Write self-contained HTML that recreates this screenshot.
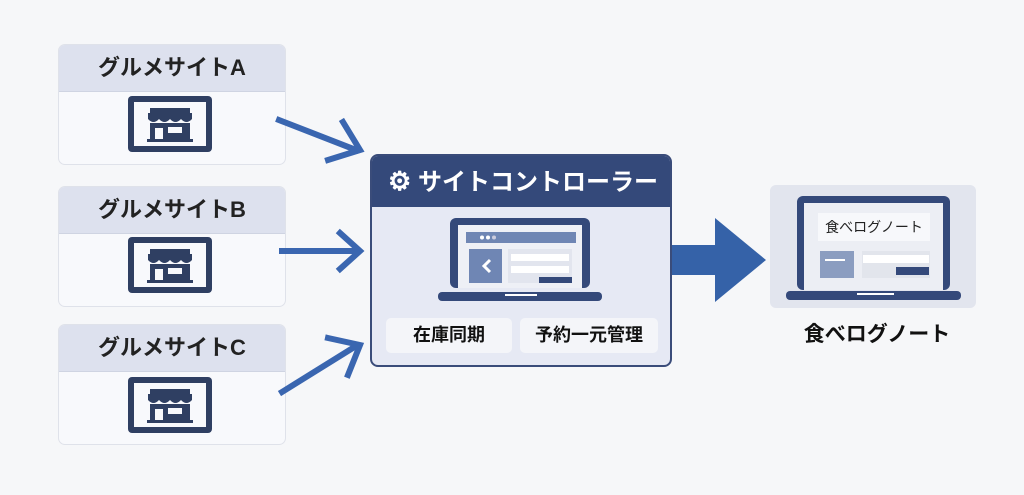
<!DOCTYPE html>
<html><head><meta charset="utf-8"><style>
body{margin:0;width:1024px;height:495px;background:#f6f7f9;position:relative;overflow:hidden;font-family:"Liberation Sans","Noto Sans CJK JP",sans-serif}
.a{position:absolute}
.site{position:absolute;left:58px;width:226px;height:119px;border:1px solid #dfe2ea;border-radius:7px;background:#f8f9fc;overflow:hidden}
.site .h{height:46px;background:#dde1ee;border-bottom:1px solid #cfd4e2;font-weight:bold;font-size:22px;color:#222;text-align:center;line-height:46px}
</style></head><body>
<div class="site" style="top:44px"><div class="h">グルメサイトA</div></div>
<div class="site" style="top:186px"><div class="h">グルメサイトB</div></div>
<div class="site" style="top:324px"><div class="h">グルメサイトC</div></div>

<svg class="a" style="left:0;top:0" width="1024" height="495">
<defs>
<g id="shop">
<rect x="0" y="0" width="84" height="56" rx="4" fill="#2f3f62"/>
<rect x="6" y="6" width="72" height="44" fill="#f8f9fc"/>
<rect x="22" y="12" width="40" height="5" fill="#2f3f62"/>
<path d="M20 17 h44 v6 q-5.5 6 -11 0 q-5.5 6 -11 0 q-5.5 6 -11 0 q-5.5 6 -11 0z" fill="#2f3f62"/>
<rect x="22" y="27" width="40" height="16" fill="#2f3f62"/>
<rect x="27" y="32" width="8" height="11" fill="#f8f9fc"/>
<rect x="40" y="31" width="14" height="6" fill="#f8f9fc"/>
<rect x="19" y="43" width="46" height="3" fill="#2f3f62"/>
</g>
</defs>
<use href="#shop" x="128" y="96"/>
<use href="#shop" x="128" y="237"/>
<use href="#shop" x="128" y="377"/>
<g stroke="#3a66b0" stroke-width="6" fill="none" stroke-linecap="square">
<line x1="279" y1="120" x2="356" y2="150"/><polyline points="343,122 360,150 328,160"/>
<line x1="282" y1="251" x2="356" y2="251"/><polyline points="340,233 360,251 340,269"/>
<line x1="282" y1="392" x2="356" y2="346"/><polyline points="328,338 360,345 348,375"/>
</g>
<polygon points="662,245 715,245 715,218 766,260 715,302 715,275 662,275" fill="#3562a8"/>
</svg>

<div class="a" style="left:370px;top:154px;width:298px;height:209px;border:2px solid #3a4c7a;border-radius:8px;background:#e6e9f4;overflow:hidden">
<div style="height:51px;background:#34497a;color:#fff;font-weight:bold;font-size:24px;line-height:51px;padding-left:16px"><span style="font-size:26px">⚙</span> サイトコントローラー</div>
</div>
<svg class="a" style="left:0;top:0" width="1024" height="495">
<rect x="450" y="218" width="140" height="70" rx="6" fill="#34497a"/>
<rect x="458" y="225" width="124" height="63" fill="#eef0f6"/>
<rect x="466" y="232" width="110" height="11" fill="#6f86b4"/>
<circle cx="482" cy="237.5" r="2" fill="#fff"/><circle cx="488" cy="237.5" r="2" fill="#fff"/><circle cx="494" cy="237.5" r="2" fill="#ccd"/>
<rect x="469" y="249" width="33" height="34" fill="#6f86b4"/>
<polyline points="490,260 484,266 490,272" stroke="#fff" stroke-width="3" fill="none"/>
<rect x="508" y="249" width="64" height="34" fill="#e2e5ee"/>
<rect x="511" y="254" width="58" height="7" fill="#fff"/><rect x="511" y="266" width="58" height="7" fill="#fff"/>
<rect x="539" y="277" width="33" height="6" fill="#34497a"/>
<rect x="438" y="292" width="164" height="9" rx="4" fill="#34497a"/>
<rect x="505" y="294" width="32" height="2" fill="#fff"/>
</svg>
<div class="a" style="left:386px;top:318px;width:126px;height:35px;background:#f4f5f9;border-radius:5px;font-weight:bold;font-size:18px;line-height:35px;text-align:center;color:#111">在庫同期</div>
<div class="a" style="left:520px;top:318px;width:138px;height:35px;background:#f4f5f9;border-radius:5px;font-weight:bold;font-size:18px;line-height:35px;text-align:center;color:#111">予約一元管理</div>

<div class="a" style="left:770px;top:185px;width:206px;height:123px;background:#e2e5ee;border-radius:6px"></div>
<svg class="a" style="left:0;top:0" width="1024" height="495">
<rect x="797" y="196" width="153" height="94" rx="6" fill="#34497a"/>
<rect x="804" y="203" width="139" height="87" fill="#eceef4"/>
<rect x="818" y="213" width="112" height="28" fill="#f7f8fb"/>
<rect x="820" y="251" width="34" height="27" fill="#8b9dc0"/>
<rect x="825" y="259" width="20" height="2" fill="#fff"/>
<rect x="862" y="251" width="68" height="27" fill="#e2e5ec"/>
<rect x="863" y="255" width="66" height="8" fill="#fff"/>
<rect x="896" y="267" width="33" height="8" fill="#34497a"/>
<rect x="786" y="291" width="175" height="9" rx="4" fill="#34497a"/>
<rect x="857" y="293" width="37" height="2" fill="#fff"/>
</svg>
<div class="a" style="left:818px;top:213px;width:112px;height:28px;font-size:14px;line-height:28px;text-align:center;color:#222">食べログノート</div>
<div class="a" style="left:770px;top:318px;width:214px;text-align:center;font-weight:bold;font-size:21px;color:#111">食べログノート</div>
</body></html>
